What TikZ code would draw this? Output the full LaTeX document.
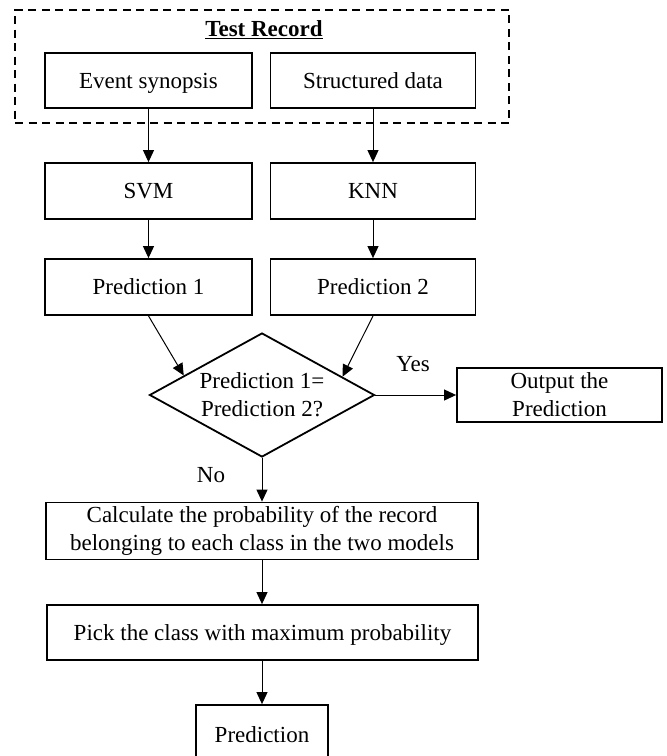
\documentclass[tikz,border=0pt]{standalone}
\usepackage{fontspec}
\setmainfont{Liberation Serif}
\usetikzlibrary{arrows.meta,shapes.geometric,calc}
\begin{document}
\begin{tikzpicture}[x=1pt,y=-1pt,
  every node/.style={font=\fontsize{23}{28}\selectfont},
  boxnode/.style={draw,line width=1.8pt,rectangle,inner sep=0pt,align=center},
  oneline/.style={text height=15pt,text depth=0pt},
  decision/.style={draw,line width=1.8pt,diamond,inner sep=0pt,aspect=1.81,align=center},
  groupbox/.style={draw,line width=1.8pt,dash pattern=on 8pt off 5.5pt,rectangle,inner sep=0pt},
  flow/.style={line width=1pt,-{Triangle[width=11pt,length=12pt]}},
  lbl/.style={inner sep=0pt}]
\useasboundingbox (0,0) rectangle (667,756);
\node[groupbox,minimum width=494,minimum height=113] (rec) at (262,66.5) {};
\node[lbl] (title) at (264,30) {\underline{\textbf{Test Record}}};
\node[boxnode,oneline,minimum width=207,minimum height=55] (ev) at (148.5,80.5) {Event synopsis};
\node[boxnode,oneline,minimum width=205,minimum height=55] (sd) at (373,80.5) {Structured data};
\node[boxnode,oneline,minimum width=207,minimum height=56] (svm) at (148.5,191) {SVM};
\node[boxnode,oneline,minimum width=205,minimum height=56] (knn) at (373,191) {KNN};
\node[boxnode,oneline,minimum width=207,minimum height=56] (p1) at (148.5,287) {Prediction 1};
\node[boxnode,oneline,minimum width=205,minimum height=56] (p2) at (373,287) {Prediction 2};
\node[decision,minimum width=225,minimum height=124] (dia) at (262,395) {Prediction 1=\\Prediction 2?};
\node[boxnode,minimum width=205,minimum height=54] (out) at (559.5,395) {Output the\\Prediction};
\node[boxnode,minimum width=432,minimum height=57] (calc) at (262,531) {Calculate the probability of the record\\belonging to each class in the two models};
\node[boxnode,oneline,minimum width=431,minimum height=55] (pick) at (262.5,632.5) {Pick the class with maximum probability};
\node[boxnode,oneline,minimum width=132,minimum height=60] (pred) at (262,735) {Prediction};
\coordinate (d1) at ($(dia.west)!0.31!(dia.north)$);
\coordinate (d2) at ($(dia.east)!0.29!(dia.north)$);
\draw[flow] (ev.south) -- (ev.south |- svm.north);
\draw[flow] (sd.south) -- (sd.south |- knn.north);
\draw[flow] (svm.south) -- (svm.south |- p1.north);
\draw[flow] (knn.south) -- (knn.south |- p2.north);
\draw[flow] (p1.south) -- (d1);
\draw[flow] (p2.south) -- (d2);
\draw[flow] (dia.east) -- (dia.east -| out.west);
\node[lbl] (yes) at (413,364) {Yes};
\draw[flow] (dia.south) -- (dia.south |- calc.north);
\node[lbl] (no) at (211,475) {No};
\draw[flow] (dia.south |- calc.south) -- (dia.south |- pick.north);
\draw[flow] (dia.south |- pick.south) -- (dia.south |- pred.north);
\end{tikzpicture}
\end{document}
